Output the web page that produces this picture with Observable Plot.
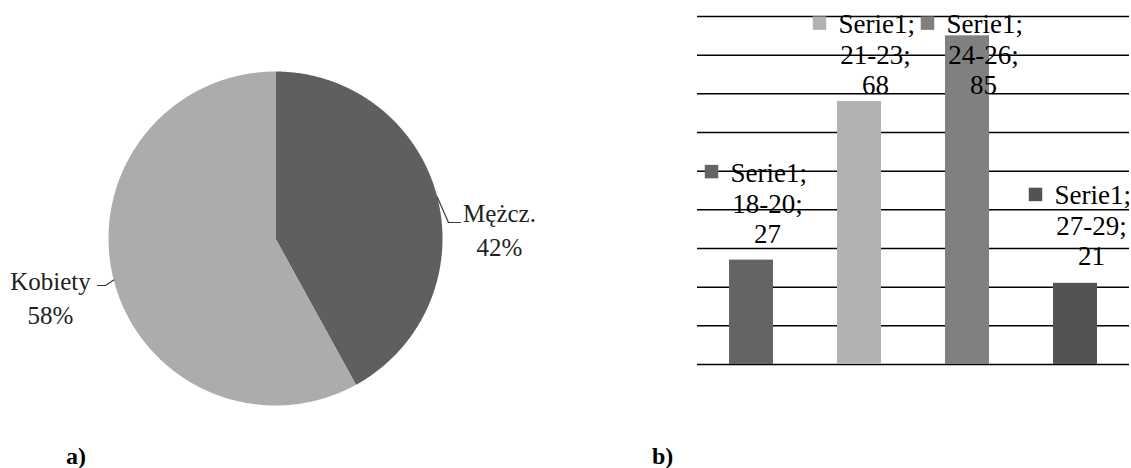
<!DOCTYPE html>
<html><head><meta charset="utf-8">
<script src="https://cdn.jsdelivr.net/npm/d3@7"></script>
<script src="https://cdn.jsdelivr.net/npm/@observablehq/plot@0.6"></script>
<style>
html,body{margin:0;padding:0;background:#fff;}
#wrap{position:relative;width:1131px;height:468px;overflow:hidden;font-family:"Liberation Serif","Times New Roman",Times,"DejaVu Serif",serif;}
#pie{position:absolute;left:0;top:0;}
#bar{position:absolute;left:680px;top:0;}
.cap{position:absolute;font-weight:bold;font-size:24px;line-height:1;color:#000;}
svg text{font-family:"Liberation Serif","Times New Roman",Times,"DejaVu Serif",serif !important;}
</style></head><body>
<div id="wrap">
<div id="pie"></div><div id="bar"></div>
<div class="cap" style="left:66px;top:444px">a)</div>
<div class="cap" style="left:652px;top:444px">b)</div>
</div>
<script>
// ---- data ----
const pieLabels = ["Mężcz.", "Kobiety"];
const pieValues = [42, 58];
const pieColors = ["#5f5f5f", "#acacac"];

const seriesName = "Serie1";
const barCategories = ["18-20", "21-23", "24-26", "27-29"];
const barValues = [27, 68, 85, 21];
const barColors = ["#646464", "#b2b2b2", "#808080", "#535353"];
const yTicks = [0, 10, 20, 30, 40, 50, 60, 70, 80, 90];

// ---- layout (positions, not data) ----
const R = 167; // pie radius in px
const pieLabelLayout = {
  "Mężcz.":  {elbow: [173, -16], end: [185, -16], text: [224, 17]},
  "Kobiety": {elbow: [-170, 47], end: [-178, 47], text: [-225, 85]}
};
const barLabelY = [47.3, 85.7, 85.7, 41.4]; // first-line baseline, in value units
const FONT = "'Liberation Serif', 'Times New Roman', Times, 'DejaVu Serif', serif";

// ---- pie ----
const total = d3.sum(pieValues);
let acc = 0;
const slices = pieLabels.map((label, i) => {
  const a0 = acc / total * 2 * Math.PI; acc += pieValues[i];
  const a1 = acc / total * 2 * Math.PI;
  return {label, value: pieValues[i], a0, a1, mid: (a0 + a1) / 2};
});
const slicePts = slices.flatMap(s => {
  const pts = [{label: s.label, x: 0, y: 0}];
  const n = Math.max(2, Math.ceil((s.a1 - s.a0) / (Math.PI / 360)));
  for (let k = 0; k <= n; k++) {
    const a = s.a0 + (s.a1 - s.a0) * k / n;
    pts.push({label: s.label, x: Math.sin(a), y: Math.cos(a)});
  }
  return pts;
});
const leaderPts = slices.flatMap(s => {
  const L = pieLabelLayout[s.label];
  return [
    {label: s.label, x: Math.sin(s.mid), y: Math.cos(s.mid)},
    {label: s.label, x: L.elbow[0] / R, y: -L.elbow[1] / R},
    {label: s.label, x: L.end[0] / R, y: -L.end[1] / R}
  ];
});
const pieText = slices.map(s => ({
  x: pieLabelLayout[s.label].text[0] / R,
  y: -pieLabelLayout[s.label].text[1] / R,
  text: `${s.label}\n${Math.round(s.value / total * 100)}%`
}));

const pie = Plot.plot({
  width: 560, height: 440,
  marginLeft: 108, marginRight: 118, marginTop: 71, marginBottom: 35,
  x: {domain: [-1, 1], axis: null},
  y: {domain: [-1, 1], axis: null},
  color: {domain: pieLabels, range: pieColors},
  style: {fontFamily: FONT, background: "transparent"},
  marks: [
    Plot.line(slicePts, {x: "x", y: "y", z: "label", fill: "label", stroke: "none", curve: "linear-closed"}),
    Plot.line(leaderPts, {x: "x", y: "y", z: "label", stroke: "#3a3a3a", strokeWidth: 1.2}),
    Plot.text(pieText, {x: "x", y: "y", text: "text", lineAnchor: "bottom", lineHeight: 1.36,
      fontSize: 25, fontFamily: FONT, fill: "#222", textAnchor: "middle"})
  ]
});
document.getElementById("pie").appendChild(pie);

// ---- bars ----
const bars = barCategories.map((c, i) => ({cat: c, value: barValues[i], ly: barLabelY[i]}));
const txt = {fontSize: 27, fontFamily: FONT, fill: "#000", lineAnchor: "bottom"};
const bar = Plot.plot({
  width: 451, height: 400,
  marginLeft: 17, marginRight: 2, marginTop: 16, marginBottom: 36,
  x: {domain: barCategories, paddingInner: 0.593, paddingOuter: 0.2965, axis: null},
  y: {domain: [0, 90], axis: null},
  color: {domain: barCategories, range: barColors},
  style: {fontFamily: FONT, background: "transparent", overflow: "visible"},
  marks: [
    Plot.ruleY(yTicks, {stroke: "#000", strokeWidth: 1.5}),
    Plot.barY(bars, {x: "cat", y: "value", fill: "cat"}),
    Plot.dot(bars, {x: "cat", y: "ly", fill: "cat", symbol: "square", r: 7.6, dx: -40, dy: -10}),
    Plot.text(bars, {x: "cat", y: "ly", text: d => `${seriesName};`, textAnchor: "start", dx: -21, ...txt}),
    Plot.text(bars, {x: "cat", y: "ly", text: d => `${d.cat};`, textAnchor: "middle", dx: 16, dy: 31, ...txt}),
    Plot.text(bars, {x: "cat", y: "ly", text: d => `${d.value}`, textAnchor: "middle", dx: 16, dy: 61, ...txt})
  ]
});
document.getElementById("bar").appendChild(bar);
</script>
</body></html>
